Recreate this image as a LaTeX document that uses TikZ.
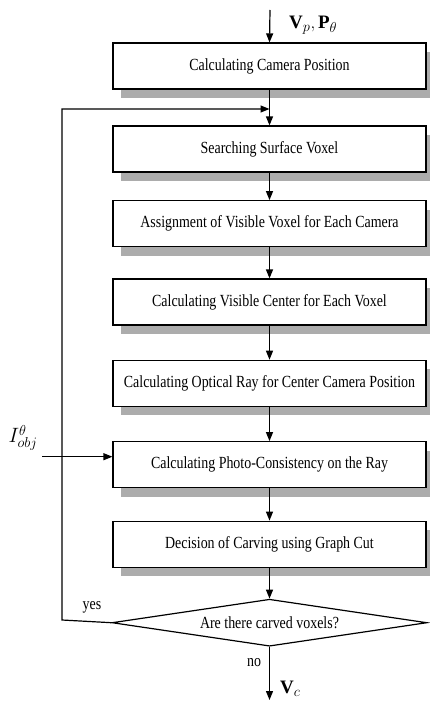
\documentclass[tikz,border=0pt]{standalone}
\usepackage{fontspec}
\setmainfont{Liberation Serif}
\newfontfamily\cond[FakeStretch=0.82]{Liberation Serif}
\usetikzlibrary{shapes.geometric,shadows,arrows.meta}
\begin{document}
\begin{tikzpicture}[x=1pt,y=-1pt,
  box/.style={draw, line width=1.2pt, fill=white, minimum width=313pt, minimum height=46pt, inner sep=0pt,
    font=\cond\fontsize{17}{20}\selectfont,
    drop shadow={shadow xshift=8pt, shadow yshift=-9pt, fill=gray!65, opacity=1}},
  dec/.style={draw, line width=1.2pt, shape=diamond, aspect=6.7, minimum width=315pt, minimum height=47pt, inner sep=0pt,
    font=\cond\fontsize{17}{20}\selectfont},
  arr/.style={-{Triangle[length=9pt,width=7pt]}, line width=1.2pt},
  lab/.style={font=\cond\fontsize{17}{20}\selectfont, inner sep=0pt}]
\useasboundingbox (0,0) rectangle (430,701);
\node[box] (b1) at (269.5,66) {Calculating Camera Position};
\node[box] (b2) at (269.5,149) {Searching Surface Voxel};
\node[box] (b3) at (269.5,223.7) {Assignment of Visible Voxel for Each Camera};
\node[box] (b4) at (269.5,302) {Calculating Visible Center for Each Voxel};
\node[box] (b5) at (269.5,383.3) {Calculating Optical Ray for Center Camera Position};
\node[box] (b6) at (269.5,464.7) {Calculating Photo-Consistency on the Ray};
\node[box] (b7) at (269.5,544.2) {Decision of Carving using Graph Cut};
\node[dec] (d) at (269.5,622.7) {Are there carved voxels?};
% input
\coordinate (top) at (270,10);
\draw[arr] (top) -- (b1.north);
\node[inner sep=0pt, anchor=west] (vp) at (289,25) {\fontsize{19}{21}\selectfont$\mathbf{V}_{p},\mathbf{P}_{\theta}$};
\draw[arr] (b1) -- (b2);
\draw[arr] (b2) -- (b3);
\draw[arr] (b3) -- (b4);
\draw[arr] (b4) -- (b5);
\draw[arr] (b5) -- (b6);
\draw[arr] (b6) -- (b7);
\draw[arr] (b7) -- (d);
% feedback
\coordinate (fb) at (62,620);
\coordinate (fbt) at (62,109);
\coordinate (fbe) at (269.5,109);
\draw[arr] (d.west) -- (fb) -- (fbt) -- (fbe);
\node[lab] (yes) at (92,607) {yes};
% I_obj
\node[inner sep=0pt] (iobj) at (23,438) {\fontsize{22}{24}\selectfont$I^{\theta}_{obj}$};
\coordinate (iin) at (42,456.7);
\draw[arr] (iin) -- (iin -| b6.west);
% output
\coordinate (out) at (269.5,700);
\draw[arr] (d.south) -- (out);
\node[lab] (no) at (254,663) {no};
\node[inner sep=0pt, anchor=west] (vc) at (280,689) {\fontsize{19}{21}\selectfont$\mathbf{V}_{c}$};
\end{tikzpicture}
\end{document}
